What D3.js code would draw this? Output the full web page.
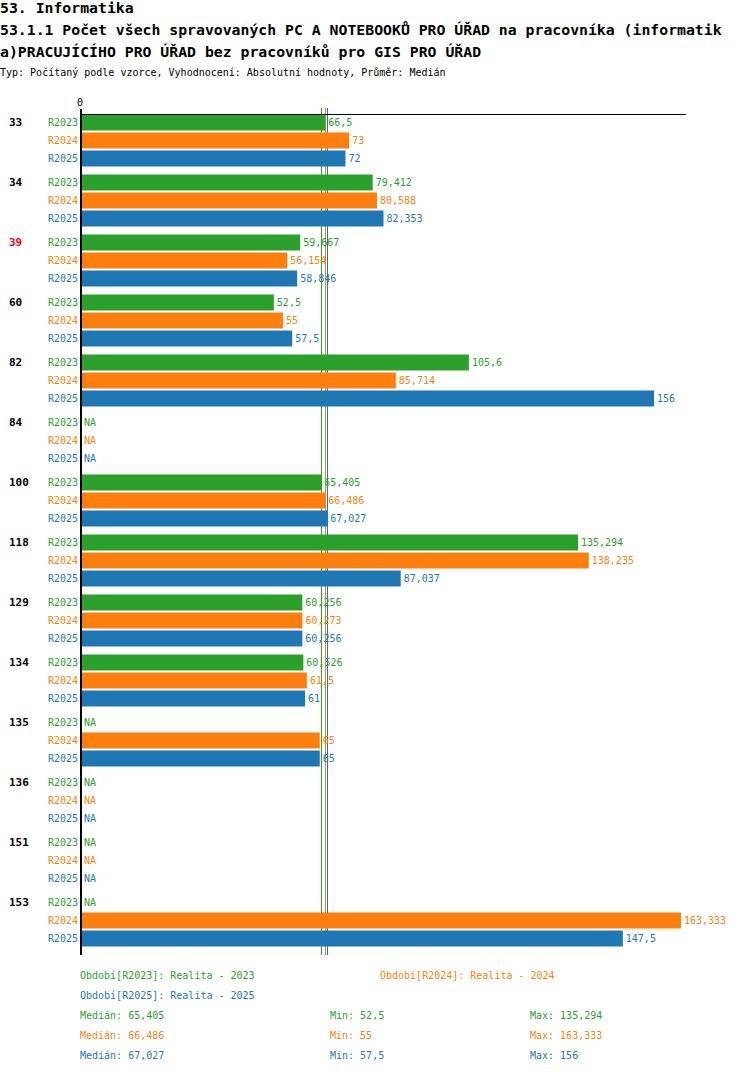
<!DOCTYPE html>
<html>
<head>
<meta charset="utf-8">
<script src="https://cdn.jsdelivr.net/npm/d3@7"></script>
<style>
  body { margin: 0; background: #fff; }
  text { font-family: "DejaVu Sans Mono", monospace; }
</style>
</head>
<body>
<svg id="chart" width="750" height="1074"></svg>
<script>
// data (null = NA)
var categories = ["33", "34", "39", "60", "82", "84", "100", "118", "129", "134", "135", "136", "151", "153"];
var highlighted = ["39"];
var seriesNames = ["R2023", "R2024", "R2025"];
var seriesTitles = ["Období[R2023]: Realita - 2023", "Období[R2024]: Realita - 2024", "Období[R2025]: Realita - 2025"];
var seriesColors = ["#2ca02c", "#ff7f0e", "#1f77b4"];
var values2023 = [66.5, 79.412, 59.667, 52.5, 105.6, null, 65.405, 135.294, 60.256, 60.526, null, null, null, null];
var values2024 = [73, 80.588, 56.154, 55, 85.714, null, 66.486, 138.235, 60.273, 61.5, 65, null, null, 163.333];
var values2025 = [72, 82.353, 58.846, 57.5, 156, null, 67.027, 87.037, 60.256, 61, 65, null, null, 147.5];
var series = [values2023, values2024, values2025];
var xTicks = [0];

var titleLines = [
  "53. Informatika",
  "53.1.1 Počet všech spravovaných PC A NOTEBOOKŮ PRO ÚŘAD na pracovníka (informatik",
  "a)PRACUJÍCÍHO PRO ÚŘAD bez pracovníků pro GIS PRO ÚŘAD"
];
var subtitle = "Typ: Počítaný podle vzorce, Vyhodnocení: Absolutní hodnoty, Průměr: Medián";

// layout
var plotLeft = 81, plotTop = 114, plotRight = 686, groupH = 60, barStep = 18, barH = 16;
var svg = d3.select("#chart");

function fmt(v) {
  return String(+v.toFixed(3)).replace(".", ",");
}

// titles
svg.append("g")
    .selectAll("text")
    .data(titleLines)
    .enter()
    .append("text")
    .attr("x", 0)
    .attr("y", function(d, i) { return 13 + i * 22; })
    .attr("font-size", 14.8)
    .attr("font-weight", "bold")
    .text(function(d) { return d; });
svg.append("text").attr("x", 0).attr("y", 76).attr("font-size", 10).text(subtitle);

var xScale = d3.scaleLinear()
    .domain([0, 164.7])
    .range([plotLeft, plotRight]);

var yGroup = d3.scaleBand()
    .domain(categories)
    .range([plotTop, plotTop + categories.length * groupH]);

var ySeries = d3.scaleBand()
    .domain(seriesNames)
    .range([0, seriesNames.length * barStep]);

var plotBottom = plotTop + categories.length * groupH;

// median lines (behind bars)
var medians = series.map(function(s) { return d3.median(s.filter(function(v) { return v !== null; })); });
var medianG = svg.append("g").attr("class", "medians");
medians.forEach(function(m, i) {
  var mx = Math.round(xScale(m)) + 0.5;
  medianG.append("line")
      .attr("x1", mx).attr("x2", mx)
      .attr("y1", plotTop - 6)
      .attr("y2", plotBottom + 1)
      .style("stroke", seriesColors[i])
      .style("stroke-width", "1px")
      .attr("shape-rendering", "crispEdges");
});

// flatten rows
var rows = [];
categories.forEach(function(c, ci) {
  seriesNames.forEach(function(s, si) {
    rows.push({cat: c, ser: s, si: si, value: series[si][ci]});
  });
});

function rowY(d) { return yGroup(d.cat) + ySeries(d.ser); }

// bars
svg.append("g")
    .selectAll("rect")
    .data(rows.filter(function(d) { return d.value !== null; }))
    .enter()
    .append("rect")
    .attr("x", xScale(0))
    .attr("y", function(d) { return rowY(d) + 0.5; })
    .attr("width", function(d) { return xScale(d.value) - xScale(0); })
    .attr("height", barH)
    .attr("fill", function(d) { return seriesColors[d.si]; });

// value labels
svg.append("g")
    .selectAll("text")
    .data(rows)
    .enter()
    .append("text")
    .attr("x", function(d) { return d.value === null ? plotLeft + 3 : xScale(d.value) + 3; })
    .attr("y", function(d) { return rowY(d) + 12; })
    .attr("font-size", 10)
    .attr("fill", function(d) { return seriesColors[d.si]; })
    .text(function(d) { return d.value === null ? "NA" : fmt(d.value); });

// series labels
svg.append("g")
    .selectAll("text")
    .data(rows)
    .enter()
    .append("text")
    .attr("x", 78)
    .attr("y", function(d) { return rowY(d) + 12; })
    .attr("text-anchor", "end")
    .attr("font-size", 10)
    .attr("fill", function(d) { return seriesColors[d.si]; })
    .text(function(d) { return d.ser; });

// category labels
svg.append("g")
    .selectAll("text")
    .data(categories)
    .enter()
    .append("text")
    .attr("x", 9)
    .attr("y", function(d) { return yGroup(d) + 12; })
    .attr("font-size", 11)
    .attr("font-weight", "bold")
    .attr("fill", function(d) { return highlighted.indexOf(d) >= 0 ? "#ff0000" : "#000"; })
    .text(function(d) { return d; });

// axes
svg.append("line")
    .attr("x1", plotLeft).attr("x2", plotRight)
    .attr("y1", plotTop + 0.5).attr("y2", plotTop + 0.5)
    .attr("stroke", "#000");
svg.append("line")
    .attr("x1", plotLeft).attr("x2", plotLeft)
    .attr("y1", plotTop - 2).attr("y2", plotBottom + 1)
    .attr("stroke", "#000").attr("stroke-width", 2);
svg.append("g")
    .selectAll("line")
    .data(xTicks)
    .enter()
    .append("line")
    .attr("x1", function(d) { return xScale(d); })
    .attr("x2", function(d) { return xScale(d); })
    .attr("y1", plotTop - 5).attr("y2", plotTop)
    .attr("stroke", "#000").attr("stroke-width", 2);
svg.append("g")
    .selectAll("text")
    .data(xTicks)
    .enter()
    .append("text")
    .attr("x", function(d) { return xScale(d) - 1; })
    .attr("y", plotTop - 8)
    .attr("text-anchor", "middle")
    .attr("font-size", 10)
    .text(function(d) { return d; });

// legend
var legendPos = [[80, 979], [380, 979], [80, 999]];
svg.append("g")
    .selectAll("text")
    .data(seriesTitles)
    .enter()
    .append("text")
    .attr("x", function(d, i) { return legendPos[i][0]; })
    .attr("y", function(d, i) { return legendPos[i][1]; })
    .attr("font-size", 10)
    .attr("fill", function(d, i) { return seriesColors[i]; })
    .text(function(d) { return d; });

// stats
var stats = series.map(function(s) {
  var v = s.filter(function(x) { return x !== null; });
  return ["Medián: " + fmt(d3.median(v)), "Min: " + fmt(d3.min(v)), "Max: " + fmt(d3.max(v))];
});
var statCols = [80, 330, 530];
stats.forEach(function(st, si) {
  svg.append("g")
      .selectAll("text")
      .data(st)
      .enter()
      .append("text")
      .attr("x", function(d, i) { return statCols[i]; })
      .attr("y", 1019 + si * 20)
      .attr("font-size", 10)
      .attr("fill", seriesColors[si])
      .text(function(d) { return d; });
});
</script>
</body>
</html>
